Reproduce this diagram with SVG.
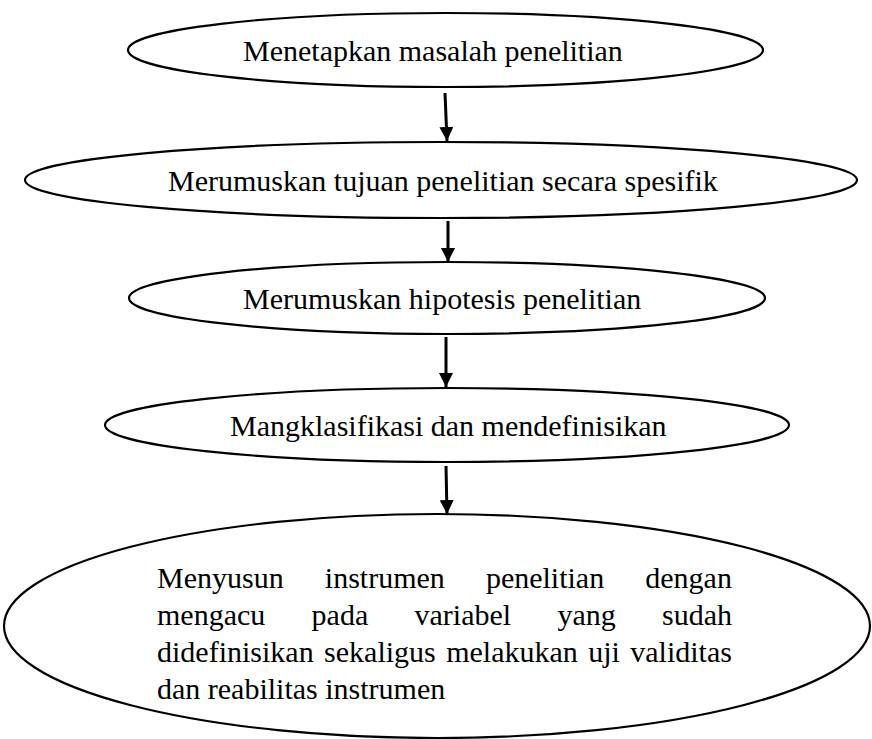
<svg xmlns="http://www.w3.org/2000/svg" width="872" height="739" viewBox="0 0 872 739">
<style>
.n{fill:#fff;stroke:#000;stroke-width:2.2}
.t{font-family:'Liberation Serif','Times New Roman',Tinos,'DejaVu Serif',serif;font-size:30px;fill:#000}
.c{stroke:#000;stroke-width:3;fill:none;marker-end:url(#ah)}
</style>
<defs>
<marker id="ah" markerUnits="userSpaceOnUse" markerWidth="15" markerHeight="14" refX="14" refY="7" orient="auto">
<path d="M0,0 L14,7 L0,14 Z" fill="#000"/>
</marker>
</defs>
<rect width="872" height="739" fill="#fff"/>
<g id="connectors">
<line class="c" x1="445" y1="93" x2="447" y2="141"/>
<line class="c" x1="448" y1="221" x2="448" y2="262"/>
<line class="c" x1="446" y1="337" x2="446" y2="387"/>
<line class="c" x1="446" y1="466" x2="447" y2="514"/>
</g>
<g id="n1">
<ellipse class="n" cx="445.5" cy="50" rx="317.5" ry="37"/>
<text class="t" x="243" y="61">Menetapkan masalah penelitian</text>
</g>
<g id="n2">
<ellipse class="n" cx="441" cy="180" rx="416" ry="38"/>
<text class="t" x="168" y="191">Merumuskan tujuan penelitian secara spesifik</text>
</g>
<g id="n3">
<ellipse class="n" cx="447" cy="298" rx="318" ry="36"/>
<text class="t" x="243" y="309">Merumuskan hipotesis penelitian</text>
</g>
<g id="n4">
<ellipse class="n" cx="447" cy="425" rx="342" ry="37"/>
<text class="t" x="230" y="436">Mangklasifikasi dan mendefinisikan</text>
</g>
<g id="n5">
<ellipse class="n" cx="437" cy="626" rx="433" ry="112"/>
<text class="t" y="588"><tspan x="157">Menyusun</tspan><tspan x="324.8">instrumen</tspan><tspan x="485.9">penelitian</tspan><tspan x="645.3">dengan</tspan></text>
<text class="t" y="625"><tspan x="157">mengacu</tspan><tspan x="311.6">pada</tspan><tspan x="414.5">variabel</tspan><tspan x="557.4">yang</tspan><tspan x="662">sudah</tspan></text>
<text class="t" y="662"><tspan x="157">didefinisikan</tspan><tspan x="324.1">sekaligus</tspan><tspan x="446.2">melakukan</tspan><tspan x="588.2">uji</tspan><tspan x="630.3">validitas</tspan></text>
<text class="t" x="157" y="699">dan reabilitas instrumen</text>
</g>
</svg>
